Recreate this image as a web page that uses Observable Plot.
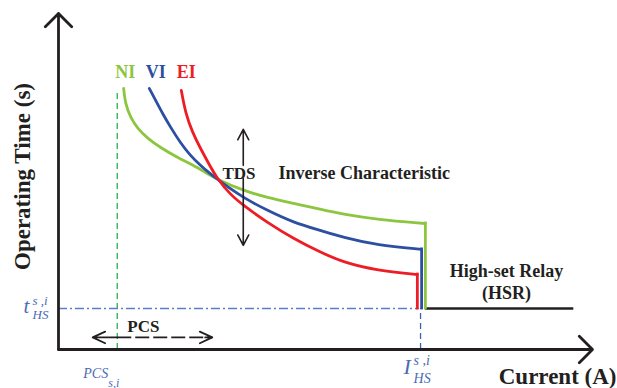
<!DOCTYPE html>
<html>
<head>
<meta charset="utf-8">
<script src="https://cdn.jsdelivr.net/npm/d3@7"></script>
<script src="https://cdn.jsdelivr.net/npm/@observablehq/plot@0.6"></script>
<style>
  html, body { margin: 0; padding: 0; background: #fff; }
  #chart svg { display: block; font-family: "Liberation Serif", "Times New Roman", serif; }
  #chart svg text { font-family: "Liberation Serif", "Times New Roman", serif; }
</style>
</head>
<body>
<div id="chart"></div>
<script>
// ---- data (arbitrary units: current 0..10, operating time 0..10) ----
const curveNames = ["NI", "VI", "EI"];
const curveColors = ["#8cc63f", "#2c4fa1", "#ee1d25"];

const niCurrent = [1.22, 1.25, 1.35, 1.48, 1.67, 1.91, 2.23, 2.53, 2.75, 2.98, 3.46, 3.91, 4.40, 4.91, 5.34, 5.97, 6.87];
const niTime    = [7.77, 7.32, 6.90, 6.58, 6.28, 6.01, 5.71, 5.48, 5.27, 5.06, 4.73, 4.52, 4.35, 4.17, 4.02, 3.87, 3.75];

const viCurrent = [1.70, 1.82, 1.95, 2.10, 2.28, 2.47, 2.66, 2.81, 2.98, 3.16, 3.46, 3.91, 4.40, 4.91, 5.34, 5.97, 6.80];
const viTime    = [7.77, 7.41, 7.02, 6.61, 6.16, 5.77, 5.48, 5.27, 5.06, 4.85, 4.52, 4.14, 3.78, 3.54, 3.33, 3.10, 2.98];

const eiCurrent = [2.30, 2.38, 2.51, 2.64, 2.81, 2.98, 3.22, 3.46, 3.91, 4.40, 4.91, 5.34, 5.97, 6.72];
const eiTime    = [7.71, 7.02, 6.46, 6.04, 5.54, 5.06, 4.61, 4.29, 3.78, 3.30, 2.89, 2.59, 2.35, 2.23];

const axisMax = 10;
const pickupCurrent = 1.10;   // PCS_{s,i}
const pickupTop = 7.73;
const highSetCurrent = 6.78;  // I_HS^{s,i}
const highSetTime = 1.22;     // t_HS^{s,i}
const highSetEnd = 9.65;
const dashDotEnd = 6.75;

const labelCurrent = [1.25, 1.82, 2.39];
const labelTime = 8.07;

const tdsCurrent = 3.46;
const tdsUp = [5.48, 6.55];
const tdsDown = [5.09, 3.10];

const pcsTime = 0.36;
const pcsLeft = 0.64;
const pcsRight = 2.88;

// ---- build tables ----
const currents = [niCurrent, viCurrent, eiCurrent];
const times = [niTime, viTime, eiTime];
const curvePts = curveNames.flatMap((name, k) =>
  currents[k].map((c, i) => ({name, current: c, time: times[k][i]})));
const drops = curveNames.map((name, k) => ({
  name, current: currents[k].at(-1), top: times[k].at(-1)
}));

const serif = "Liberation Serif";
const ink = "#231f20";
const mathBlue = "#4a6bb5";
const bold = {fontFamily: serif, fontWeight: "bold", fill: ink};
const math = {fontFamily: serif, fontStyle: "italic", fill: mathBlue, textAnchor: "start", lineAnchor: "bottom"};

const chart = Plot.plot({
  width: 617,
  height: 388,
  marginLeft: 58,
  marginRight: 25,
  marginTop: 13,
  marginBottom: 39,
  x: {domain: [0, axisMax], axis: null},
  y: {domain: [0, axisMax], axis: null},
  color: {domain: curveNames, range: curveColors},
  style: {fontFamily: "'Liberation Serif', serif", background: "#fff", overflow: "visible"},
  marks: [
    // reference lines
    Plot.ruleX([pickupCurrent], {y1: 0, y2: pickupTop, stroke: "#22b24c", strokeWidth: 1.3, strokeDasharray: "6,4"}),
    Plot.ruleY([highSetTime], {x1: 0, x2: dashDotEnd, stroke: "#5b7cc6", strokeWidth: 1.4, strokeDasharray: "9,3,2,3"}),
    Plot.ruleX([highSetCurrent], {y1: 0, y2: highSetTime, stroke: "#3d5fb0", strokeWidth: 1.3, strokeDasharray: "6,4"}),
    // high-set relay line
    Plot.ruleY([highSetTime], {x1: niCurrent.at(-1), x2: highSetEnd, stroke: ink, strokeWidth: 2.6}),
    // curves
    Plot.ruleX(drops, {x: "current", y1: highSetTime, y2: "top", stroke: "name", strokeWidth: 2.8, strokeLinecap: "square"}),
    Plot.line(curvePts, {x: "current", y: "time", z: "name", stroke: "name", strokeWidth: 2.8, curve: "basis"}),
    // axes
    Plot.arrow([{x1: 0, y1: 0, x2: 0, y2: axisMax}, {x1: 0, y1: 0, x2: axisMax, y2: 0}],
      {x1: "x1", y1: "y1", x2: "x2", y2: "y2", stroke: ink, strokeWidth: 2.8, headLength: 10, headAngle: 90}),
    // TDS arrows
    Plot.arrow([{a: tdsUp[0], b: tdsUp[1]}, {a: tdsDown[0], b: tdsDown[1]}],
      {x1: () => tdsCurrent, x2: () => tdsCurrent, y1: "a", y2: "b", stroke: ink, strokeWidth: 1.6, headLength: 11, headAngle: 56}),
    // PCS arrows
    Plot.link([{a: pickupCurrent, b: pcsRight}], {x1: "a", x2: "b", y1: () => pcsTime, y2: () => pcsTime, stroke: ink, strokeWidth: 1.8, strokeDasharray: "14,4"}),
    Plot.arrow([{a: pcsRight, b: pcsLeft}], {x1: "a", x2: "b", y1: () => pcsTime, y2: () => pcsTime, insetStart: 95, stroke: ink, strokeWidth: 1.8, headLength: 11.5, headAngle: 50}),
    Plot.arrow([{a: pickupCurrent, b: pcsRight}], {x1: "a", x2: "b", y1: () => pcsTime, y2: () => pcsTime, insetStart: 88, stroke: ink, strokeWidth: 1.8, headLength: 11.5, headAngle: 50}),
    // curve labels
    Plot.text(curveNames, {x: (d, i) => labelCurrent[i], y: () => labelTime, text: d => d, fill: d => d, fontFamily: serif, fontSize: 18, fontWeight: "bold", textAnchor: "middle", lineAnchor: "bottom"}),
    // annotations
    Plot.text(["TDS"], {...bold, x: () => 3.38, y: () => 5.06, fontSize: 17, textAnchor: "middle", lineAnchor: "bottom"}),
    Plot.text(["Inverse Characteristic"], {...bold, x: () => 4.12, y: () => 5.06, fontSize: 18, textAnchor: "start", lineAnchor: "bottom"}),
    Plot.text(["High-set Relay"], {...bold, x: () => 8.39, y: () => 2.15, fontSize: 18, textAnchor: "middle", lineAnchor: "bottom"}),
    Plot.text(["(HSR)"], {...bold, x: () => 8.39, y: () => 1.49, fontSize: 18, textAnchor: "middle", lineAnchor: "bottom"}),
    Plot.text(["PCS"], {...bold, x: () => 1.59, y: () => 0.51, fontSize: 17, textAnchor: "middle", lineAnchor: "bottom"}),
    // axis titles
    Plot.text(["Operating Time (s)"], {...bold, frameAnchor: "left", dx: -36, dy: -5, rotate: -90, fontSize: 23, textAnchor: "middle", lineAnchor: "middle"}),
    Plot.text(["Current (A)"], {...bold, frameAnchor: "bottom-right", dx: 24, dy: 34, fontSize: 23, textAnchor: "end", lineAnchor: "bottom"}),
    // math labels: t_HS^{s,i}
    Plot.text(["t"], {...math, x: () => 0, y: () => highSetTime, dx: -35, dy: 4, fontSize: 21}),
    Plot.text(["s ,i"], {...math, x: () => 0, y: () => highSetTime, dx: -26, dy: -4, fontSize: 13}),
    Plot.text(["HS"], {...math, x: () => 0, y: () => highSetTime, dx: -26, dy: 10, fontSize: 13}),
    // I_HS^{s,i}
    Plot.text(["I"], {...math, x: () => highSetCurrent, y: () => 0, dx: -17, dy: 24, fontSize: 22}),
    Plot.text(["s ,i"], {...math, x: () => highSetCurrent, y: () => 0, dx: -7, dy: 15, fontSize: 14}),
    Plot.text(["HS"], {...math, x: () => highSetCurrent, y: () => 0, dx: -7, dy: 33, fontSize: 14}),
    // PCS_{s,i}
    Plot.text(["PCS"], {...math, x: () => pickupCurrent, y: () => 0, dx: -34, dy: 28, fontSize: 14}),
    Plot.text(["s,i"], {...math, x: () => pickupCurrent, y: () => 0, dx: -9, dy: 37, fontSize: 12})
  ]
});

document.getElementById("chart").append(chart);
</script>
</body>
</html>
